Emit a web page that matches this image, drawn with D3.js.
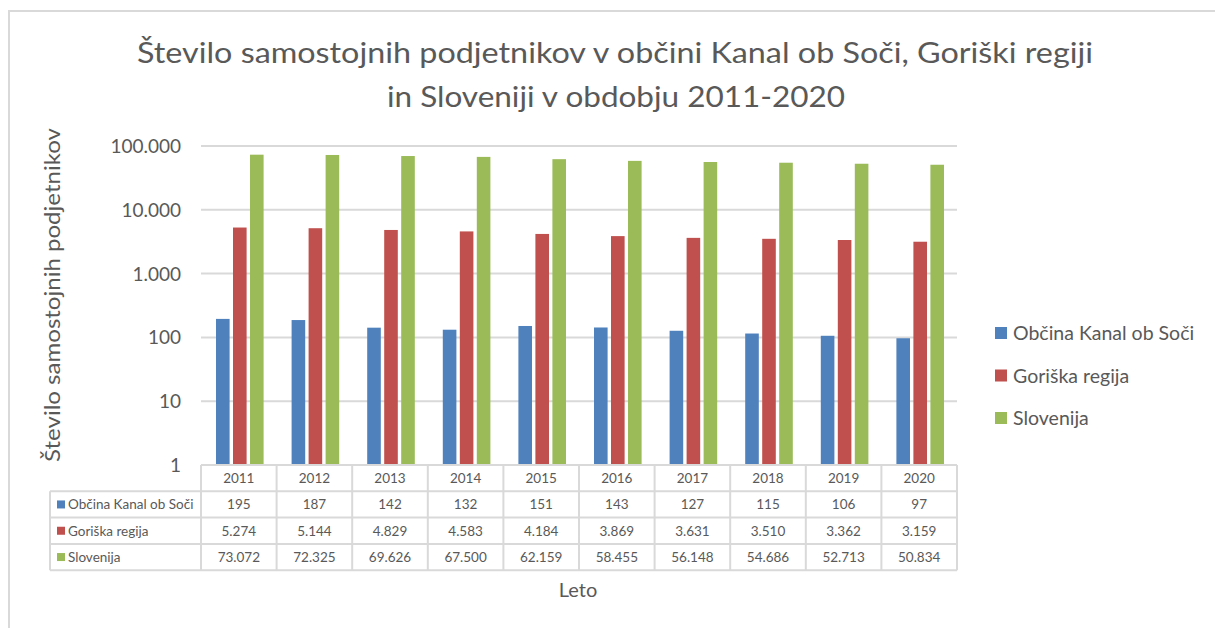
<!DOCTYPE html>
<html>
<head>
<meta charset="utf-8">
<script src="https://cdn.jsdelivr.net/npm/d3@7"></script>
<style>
  body { margin: 0; background: #fff; }
  text { font-family: Lato, "Open Sans", sans-serif; fill: #595959; }
</style>
</head>
<body>
<div class="plot"></div>
<script>
const years = ["2011","2012","2013","2014","2015","2016","2017","2018","2019","2020"];
const seriesNames = ["Občina Kanal ob Soči", "Goriška regija", "Slovenija"];
const kanal = [195, 187, 142, 132, 151, 143, 127, 115, 106, 97];
const goriska = [5274, 5144, 4829, 4583, 4184, 3869, 3631, 3510, 3362, 3159];
const slovenija = [73072, 72325, 69626, 67500, 62159, 58455, 56148, 54686, 52713, 50834];
const yTicks = [1, 10, 100, 1000, 10000, 100000];
const colors = ["#4F81BD", "#C0504D", "#9BBB59"];

const values = [kanal, goriska, slovenija];
const W = 1215, H = 628;
const plot = {left: 201, right: 957, top: 146, bottom: 465};

const svg = d3.select(".plot")
    .append("svg")
        .attr("width", W)
        .attr("height", H);

// outer chart border
svg.append("path")
    .attr("d", `M9,${H} V11 H${W}`)
    .attr("fill", "none")
    .attr("stroke", "#d9d9d9")
    .attr("stroke-width", 2);

// title (widths stretched to match the original)
svg.append("text")
    .attr("x", 615).attr("y", 63)
    .attr("text-anchor", "middle")
    .attr("textLength", 956)
    .attr("lengthAdjust", "spacingAndGlyphs")
    .style("font-size", "28px")
    .text("Število samostojnih podjetnikov v občini Kanal ob Soči, Goriški regiji");
svg.append("text")
    .attr("x", 616).attr("y", 107)
    .attr("text-anchor", "middle")
    .attr("textLength", 458)
    .attr("lengthAdjust", "spacingAndGlyphs")
    .style("font-size", "28px")
    .text("in Sloveniji v obdobju 2011-2020");

// scales
const x = d3.scaleBand()
    .domain(years)
    .range([plot.left, plot.right]);
const y = d3.scaleLog()
    .domain([1, 100000])
    .range([plot.bottom, plot.top]);
const xs = d3.scaleBand()
    .domain(d3.range(seriesNames.length))
    .range([15, x.bandwidth() - 13])
    .paddingInner(0.2);

// gridlines
svg.append("g")
    .selectAll("line")
    .data(yTicks.slice(1))
    .enter()
    .append("line")
        .attr("x1", plot.left)
        .attr("x2", plot.right)
        .attr("y1", d => y(d))
        .attr("y2", d => y(d))
        .attr("stroke", "#d9d9d9")
        .attr("stroke-width", 2);

// y tick labels
svg.append("g")
    .selectAll("text")
    .data(yTicks)
    .enter()
    .append("text")
        .attr("x", 181)
        .attr("y", d => y(d) + 7)
        .attr("text-anchor", "end")
        .style("font-size", "19px")
        .text(d => d3.format(",")(d).replace(/,/g, "."));

// bars
values.forEach((vals, s) => {
    svg.append("g")
        .selectAll("rect")
        .data(vals)
        .enter()
        .append("rect")
            .attr("x", (d, i) => x(years[i]) + xs(s))
            .attr("width", xs.bandwidth())
            .attr("y", d => y(d))
            .attr("height", d => y(1) - y(d))
            .attr("fill", colors[s]);
});

// data table
const rowH = 26.3;
const tableLeft = 50;
const grid = svg.append("g")
    .attr("stroke", "#d9d9d9")
    .attr("stroke-width", 2)
    .attr("fill", "none");
// horizontal lines
grid.append("line").attr("x1", plot.left).attr("x2", plot.right)
    .attr("y1", plot.bottom).attr("y2", plot.bottom);
d3.range(1, 4 + 1).forEach(r => {
    grid.append("line").attr("x1", tableLeft).attr("x2", plot.right)
        .attr("y1", plot.bottom + r * rowH).attr("y2", plot.bottom + r * rowH);
});
// vertical lines
grid.append("line").attr("x1", tableLeft).attr("x2", tableLeft)
    .attr("y1", plot.bottom + rowH).attr("y2", plot.bottom + 4 * rowH);
years.concat(["end"]).forEach((yr, i) => {
    const xx = plot.left + i * x.step();
    grid.append("line").attr("x1", xx).attr("x2", xx)
        .attr("y1", plot.bottom).attr("y2", plot.bottom + 4 * rowH);
});

// year header
svg.append("g")
    .selectAll("text")
    .data(years)
    .enter()
    .append("text")
        .attr("x", d => x(d) + x.bandwidth() / 2)
        .attr("y", plot.bottom + rowH / 2 + 5)
        .attr("text-anchor", "middle")
        .style("font-size", "13.5px")
        .text(d => d);

const fmt = d => d3.format(",")(d).replace(/,/g, ".");
values.forEach((vals, s) => {
    const rowY = plot.bottom + (s + 1) * rowH;
    svg.append("rect")
        .attr("x", tableLeft + 7)
        .attr("y", rowY + rowH / 2 - 4)
        .attr("width", 8)
        .attr("height", 8)
        .attr("fill", colors[s]);
    svg.append("text")
        .attr("x", tableLeft + 18)
        .attr("y", rowY + rowH / 2 + 5)
        .style("font-size", "13.5px")
        .text(seriesNames[s]);
    svg.append("g")
        .selectAll("text")
        .data(vals)
        .enter()
        .append("text")
            .attr("x", (d, i) => x(years[i]) + x.bandwidth() / 2)
            .attr("y", rowY + rowH / 2 + 5)
            .attr("text-anchor", "middle")
            .style("font-size", "13.5px")
            .text(d => fmt(d));
});

// axis titles
svg.append("text")
    .attr("transform", "translate(60, 295) rotate(-90)")
    .attr("text-anchor", "middle")
    .attr("textLength", 334)
    .attr("lengthAdjust", "spacingAndGlyphs")
    .style("font-size", "21px")
    .text("Število samostojnih podjetnikov");

svg.append("text")
    .attr("x", 578)
    .attr("y", 597)
    .attr("text-anchor", "middle")
    .style("font-size", "20px")
    .text("Leto");

// legend
const legend = svg.append("g")
    .selectAll("g")
    .data(seriesNames)
    .enter()
    .append("g")
        .attr("transform", (d, i) => `translate(995, ${333 + i * 42.5})`);
legend.append("rect")
    .attr("y", -6)
    .attr("width", 12)
    .attr("height", 12)
    .attr("fill", (d, i) => colors[i]);
legend.append("text")
    .attr("x", 18)
    .attr("y", 7)
    .style("font-size", "19.5px")
    .text(d => d);
</script>
</body>
</html>
